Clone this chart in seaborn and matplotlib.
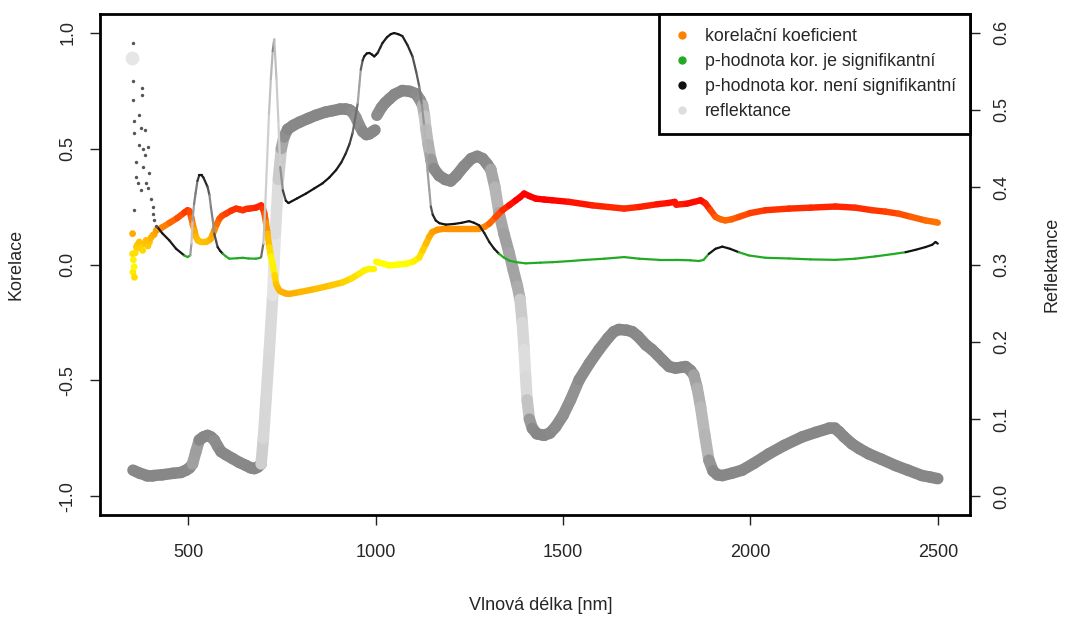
import numpy as np
import matplotlib
matplotlib.use("Agg")
import matplotlib.pyplot as plt
import seaborn as sns
from matplotlib.collections import LineCollection
from matplotlib.colors import LinearSegmentedColormap, Normalize, to_rgb
from matplotlib.lines import Line2D

# ---------------- data ----------------
# reflectance (right axis)
refl_outlier_nm = [350]
refl_outlier = [0.567]
refl_nm = [352, 370, 390, 405, 430, 460, 480, 494, 503, 511, 520, 529, 540, 551, 560, 569, 578, 587,
           600, 618, 636, 654, 666, 676, 685, 694, 700, 707, 716, 725, 732, 740, 748, 755, 765, 780,
           796, 820, 840, 865, 885, 905, 920, 930, 938, 947, 956, 965, 975, 983, 992, 998,
           1003, 1015, 1025, 1036, 1050, 1071, 1090, 1107, 1118, 1125, 1130, 1134, 1140, 1147, 1155,
           1169, 1185, 1200, 1215, 1235, 1255, 1271, 1285, 1297, 1307, 1318, 1329, 1342, 1356, 1367,
           1378, 1385, 1391, 1396, 1400, 1404, 1410, 1418, 1430, 1449, 1465, 1480, 1500, 1520, 1543,
           1570, 1596, 1620, 1635, 1649, 1670, 1685, 1700, 1721, 1737, 1752, 1768, 1783, 1800, 1815,
           1827, 1840, 1849, 1858, 1867, 1878, 1889, 1900, 1912, 1925, 1950, 1978, 2010, 2049, 2090,
           2138, 2175, 2209, 2225, 2236, 2250, 2271, 2290, 2316, 2350, 2387, 2420, 2458, 2480, 2500]
refl_val = [0.034, 0.030, 0.027, 0.027, 0.028, 0.030, 0.031, 0.034, 0.037, 0.042, 0.058, 0.073, 0.077,
            0.079, 0.077, 0.073, 0.065, 0.058, 0.054, 0.049, 0.044, 0.040, 0.037, 0.036, 0.038, 0.042,
            0.075, 0.125, 0.190, 0.260, 0.340, 0.410, 0.450, 0.465, 0.475, 0.480, 0.484, 0.489, 0.493,
            0.497, 0.499, 0.501, 0.501, 0.500, 0.497, 0.490, 0.480, 0.472, 0.468, 0.469, 0.472, 0.474,
            0.493, 0.503, 0.509, 0.514, 0.520, 0.525, 0.524, 0.521, 0.513, 0.506, 0.492, 0.475, 0.455,
            0.436, 0.424, 0.415, 0.410, 0.408, 0.415, 0.427, 0.437, 0.440, 0.437, 0.430, 0.423, 0.400,
            0.367, 0.340, 0.315, 0.293, 0.272, 0.255, 0.225, 0.190, 0.155, 0.125, 0.100, 0.088, 0.081,
            0.079, 0.082, 0.090, 0.105, 0.125, 0.151, 0.172, 0.190, 0.205, 0.213, 0.216, 0.215, 0.213,
            0.207, 0.196, 0.190, 0.183, 0.175, 0.168, 0.166, 0.167, 0.168, 0.163, 0.157, 0.140, 0.116,
            0.080, 0.047, 0.033, 0.028, 0.027, 0.030, 0.034, 0.043, 0.055, 0.066, 0.077, 0.083, 0.088,
            0.088, 0.084, 0.077, 0.068, 0.062, 0.055, 0.048, 0.040, 0.034, 0.027, 0.025, 0.023]

# correlation coefficient (left axis): noisy start points, then smooth part
cor_noise_nm = [351, 351, 352, 353, 355, 356, 358, 361, 364, 369, 372, 378, 383, 387, 392, 396, 400,
                405, 409, 414]
cor_noise = [0.133, 0.046, -0.033, 0.020, -0.010, -0.055, 0.050, 0.075, 0.085, 0.097, 0.070, 0.061,
             0.090, 0.104, 0.080, 0.097, 0.115, 0.126, 0.130, 0.147]
cor_nm = [418, 430, 450, 470, 490, 498, 503, 508, 512, 516, 520, 525, 534, 547, 556, 560, 565, 569,
          576, 583, 590, 600, 614, 627, 636, 645, 655, 663, 680, 694, 699, 703, 707, 711, 716, 720,
          725, 730, 734, 740, 745, 752, 760, 769, 800, 840, 880, 912, 935, 956, 970, 983, 996,
          1001, 1010, 1036, 1060, 1081, 1100, 1116, 1125, 1134, 1143, 1151, 1165, 1187, 1230, 1276,
          1290, 1303, 1320, 1338, 1356, 1374, 1385, 1396, 1410, 1427, 1450, 1471, 1516, 1578, 1620,
          1663, 1703, 1752, 1780, 1798, 1802, 1830, 1867, 1880, 1893, 1907, 1920, 1933, 1950, 1969,
          2000, 2040, 2103, 2160, 2227, 2280, 2325, 2360, 2396, 2430, 2467, 2494, 2500]
cor_val = [0.150, 0.160, 0.180, 0.200, 0.225, 0.234, 0.230, 0.200, 0.170, 0.147, 0.120, 0.104, 0.097,
           0.097, 0.105, 0.111, 0.130, 0.147, 0.175, 0.198, 0.210, 0.219, 0.232, 0.241, 0.238, 0.234,
           0.240, 0.241, 0.245, 0.255, 0.240, 0.219, 0.180, 0.133, 0.075, 0.035, 0.000, -0.045, -0.084,
           -0.105, -0.115, -0.120, -0.125, -0.127, -0.118, -0.105, -0.090, -0.077, -0.060, -0.040,
           -0.025, -0.019, -0.019,
           0.012, 0.008, -0.004, 0.000, 0.003, 0.012, 0.030, 0.060, 0.089, 0.120, 0.140, 0.150, 0.155,
           0.155, 0.155, 0.162, 0.176, 0.205, 0.234, 0.255, 0.277, 0.290, 0.306, 0.295, 0.284, 0.280,
           0.277, 0.270, 0.255, 0.248, 0.241, 0.248, 0.260, 0.265, 0.270, 0.258, 0.262, 0.277, 0.263,
           0.235, 0.205, 0.195, 0.190, 0.195, 0.205, 0.222, 0.234, 0.241, 0.245, 0.250, 0.245, 0.234,
           0.228, 0.219, 0.205, 0.190, 0.183, 0.180]

# p-value of the correlation (left axis): noisy start points, then smooth part
p_noise_nm = [351, 351, 351, 376, 376, 356, 369, 356, 374, 383, 369, 391, 383, 361, 378, 396, 365,
              387, 374, 391, 401, 356, 405, 405, 409, 414, 361, 378]
p_noise = [0.955, 0.790, 0.710, 0.760, 0.730, 0.620, 0.645, 0.566, 0.587, 0.580, 0.515, 0.508, 0.472,
           0.443, 0.421, 0.393, 0.350, 0.350, 0.320, 0.328, 0.284, 0.234, 0.248, 0.219, 0.190, 0.165,
           0.378, 0.500]
p_nm = [418, 430, 449, 467, 489, 498, 505, 508, 511, 515, 519, 524, 529, 535, 540, 551, 556, 560, 565,
        569, 574, 578, 585, 592, 600, 609, 630, 645, 660, 680, 690, 694, 700, 705, 710, 715, 720, 725,
        729, 735, 740, 745, 752, 760, 767, 790, 814, 836, 858, 876, 894, 908, 920, 930, 938, 945, 952,
        956, 960, 965, 969, 976, 983, 990, 996, 1001, 1005, 1012, 1018, 1030, 1040, 1049, 1060, 1071,
        1085, 1098, 1108, 1116, 1123, 1129, 1134, 1138, 1143, 1147, 1152, 1160, 1170, 1187, 1210,
        1230, 1249, 1262, 1276, 1290, 1303, 1316, 1329, 1342, 1356, 1375, 1400, 1440, 1471, 1520,
        1560, 1610, 1663, 1703, 1756, 1800, 1840, 1863, 1875, 1889, 1907, 1925, 1945, 1969, 1996,
        2040, 2103, 2160, 2227, 2280, 2334, 2380, 2414, 2440, 2467, 2485, 2494, 2500]
p_val = [0.160, 0.135, 0.104, 0.068, 0.039, 0.032, 0.040, 0.090, 0.190, 0.260, 0.306, 0.360, 0.385,
         0.385, 0.375, 0.335, 0.300, 0.248, 0.190, 0.133, 0.100, 0.075, 0.058, 0.046, 0.035, 0.025,
         0.027, 0.029, 0.026, 0.025, 0.028, 0.032, 0.090, 0.250, 0.450, 0.650, 0.800, 0.920, 0.970,
         0.800, 0.620, 0.420, 0.320, 0.275, 0.265, 0.285, 0.306, 0.328, 0.350, 0.375, 0.407, 0.440,
         0.479, 0.520, 0.566, 0.630, 0.696, 0.770, 0.840, 0.880, 0.897, 0.910, 0.912, 0.905, 0.897,
         0.905, 0.912, 0.935, 0.955, 0.980, 0.993, 0.998, 0.993, 0.985, 0.945, 0.897, 0.830, 0.768,
         0.690, 0.600, 0.480, 0.407, 0.320, 0.250, 0.215, 0.190, 0.178, 0.172, 0.175, 0.180, 0.187,
         0.180, 0.169, 0.135, 0.097, 0.068, 0.046, 0.030, 0.017, 0.010, 0.005, 0.008, 0.010, 0.015,
         0.020, 0.025, 0.032, 0.025, 0.020, 0.020, 0.018, 0.015, 0.020, 0.046, 0.068, 0.077, 0.068,
         0.053, 0.039, 0.029, 0.026, 0.022, 0.020, 0.025, 0.035, 0.045, 0.053, 0.063, 0.075, 0.085,
         0.097, 0.090]

x_ticks = [500, 1000, 1500, 2000, 2500]
y_ticks = [-1.0, -0.5, 0.0, 0.5, 1.0]
y2_ticks = [0.0, 0.1, 0.2, 0.3, 0.4, 0.5, 0.6]
legend_labels = ["korelační koeficient", "p-hodnota kor. je signifikantní",
                 "p-hodnota kor. není signifikantní", "reflektance"]
splice_nm = 1000      # detector change: reflectance and correlation jump here
alpha_level = 0.05

# ---------------- styling ----------------
sns.set_style("white")
plt.rcParams['font.family'] = ['Liberation Sans', 'DejaVu Sans']

COL_SIG = '#22AA22'
COL_NS = '#000000'
COL_REFL = '#878787'
cor_cmap = LinearSegmentedColormap.from_list('cor', ['#FFFF00', '#FFA500', '#FF0000'])
cor_norm = Normalize(0.0, 0.28)

fig = plt.figure(figsize=(10.66, 6.17), dpi=100)
ax = fig.add_axes([100 / 1066, 1 - 515 / 617, 870 / 1066, 501 / 617])
ax2 = ax.twinx()
ax.set_zorder(2)
ax.patch.set_visible(False)

ax.set_xlim(264, 2586)
ax.set_ylim(-1.08, 1.08)
ax2.set_ylim((-1.08 + 1) * 0.3, (1.08 + 1) * 0.3)


def make_segments(wl, vals, skip_break):
    wl = np.asarray(wl, float)
    vals = np.asarray(vals, float)
    pts = np.column_stack([wl, vals])
    segs = np.stack([pts[:-1], pts[1:]], axis=1)
    keep = np.ones(len(segs), bool)
    if skip_break:
        keep = ~((wl[:-1] < splice_nm) & (wl[1:] > splice_nm))
    return segs, keep


def density_colors(axis, wl, vals, base, alpha, diam_px):
    # colour of densely overlapping semi-transparent points: steep parts look lighter
    pts = axis.transData.transform(np.column_stack([wl, vals]))
    seg_px = np.hypot(np.diff(pts[:, 0]), np.diff(pts[:, 1]))
    px_per_nm = seg_px / np.diff(np.asarray(wl, float))
    n_overlap = diam_px / np.maximum(px_per_nm, 1e-6)
    opacity = 1 - (1 - alpha) ** n_overlap
    b = np.array(to_rgb(base))
    return 1 - (1 - b)[None, :] * opacity[:, None]


# reflectance
segs, keep = make_segments(refl_nm, refl_val, True)
cols = density_colors(ax2, refl_nm, refl_val, COL_REFL, 0.2, 10)
lc = LineCollection(segs[keep], colors=cols[keep], linewidths=8.3, capstyle='round', joinstyle='round')
ax2.add_collection(lc)
sns.scatterplot(x=refl_outlier_nm, y=refl_outlier, color='#E6E6E6', s=100, linewidth=0, ax=ax2,
                legend=False)

# correlation coefficient
segs, keep = make_segments(cor_nm, cor_val, True)
mid = np.abs((np.array(cor_val[:-1]) + np.array(cor_val[1:])) / 2)
lc = LineCollection(segs[keep], colors=cor_cmap(cor_norm(mid))[keep], linewidths=4.6,
                    capstyle='round', joinstyle='round', zorder=3)
ax.add_collection(lc)
sns.scatterplot(x=cor_noise_nm, y=cor_noise, hue=np.abs(cor_noise), palette=cor_cmap,
                hue_norm=(0.0, 0.28), s=24, linewidth=0, legend=False, ax=ax, zorder=3)

# p-value
segs, keep = make_segments(p_nm, p_val, False)
pmid = (np.array(p_val[:-1]) + np.array(p_val[1:])) / 2
ns_cols = density_colors(ax, p_nm, p_val, '#111111', 0.5, 3)
sig = np.array(to_rgb(COL_SIG))
pcols = np.where((pmid < alpha_level)[:, None], sig[None, :], ns_cols)
lc = LineCollection(segs, colors=pcols, linewidths=1.6, capstyle='round', joinstyle='round', zorder=4)
ax.add_collection(lc)
sns.scatterplot(x=p_noise_nm, y=p_noise, color='#555555', s=6, linewidth=0, legend=False, ax=ax,
                zorder=4)

# ---------------- axes ----------------
ax.set_xticks(x_ticks)
ax.set_xticklabels([str(v) for v in x_ticks])
ax.set_yticks(y_ticks)
ax.set_yticklabels([f"{v:.1f}" for v in y_ticks])
ax2.set_yticks(y2_ticks)
ax2.set_yticklabels([f"{v:.1f}" for v in y2_ticks])

ax.tick_params(axis='x', direction='out', length=7, width=1, color='#222222', labelsize=13, pad=14,
               bottom=True)
ax.tick_params(axis='y', direction='out', length=7, width=1, color='#222222', labelsize=13, pad=10,
               left=True, labelrotation=90)
ax2.tick_params(axis='y', direction='out', length=7, width=1, color='#222222', labelsize=13, pad=10,
                right=True, labelrotation=90)
plt.setp(ax.get_yticklabels(), va='center')
plt.setp(ax2.get_yticklabels(), va='center')

for s in ax.spines.values():
    s.set_linewidth(2)
    s.set_color('black')
for s in ax2.spines.values():
    s.set_visible(False)

ax.set_xlabel("Vlnová délka [nm]", fontsize=13)
ax.set_ylabel("Korelace", fontsize=13)
ax2.set_ylabel("Reflektance", fontsize=13)
ax.xaxis.set_label_coords(0.507, -0.18)
ax.xaxis.label.set_va('center')
ax.yaxis.set_label_coords(-0.096, 0.5)
ax.yaxis.label.set_va('center')
ax2.yaxis.set_label_coords(1.094, 0.5)
ax2.yaxis.label.set_va('center')

handles = [Line2D([], [], marker='o', ls='', color=c, markersize=5)
           for c in ['#FF8000', COL_SIG, '#111111', '#DDDDDD']]
leg = ax.legend(handles, legend_labels, loc='upper right', bbox_to_anchor=(1, 1), borderaxespad=0,
                frameon=True, fancybox=False, edgecolor='black', framealpha=1, fontsize=12.8,
                handletextpad=0.75, labelspacing=0.45, borderpad=0.8, handlelength=1.0)
leg.get_frame().set_linewidth(2)

fig.savefig("out.png", dpi=100)
